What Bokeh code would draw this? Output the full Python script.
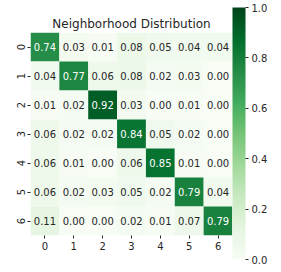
import numpy as np
from bokeh.plotting import figure
from bokeh.models import (ColumnDataSource, LinearColorMapper, ColorBar,
                          FixedTicker, PrintfTickFormatter, Range1d)
from bokeh.embed import file_html
from bokeh.resources import INLINE
from bokeh.core.properties import value

title_text = "Neighborhood Distribution"
row_labels = [0, 1, 2, 3, 4, 5, 6]
col_labels = [0, 1, 2, 3, 4, 5, 6]
values = [
    [0.74, 0.03, 0.01, 0.08, 0.05, 0.04, 0.04],
    [0.04, 0.77, 0.06, 0.08, 0.02, 0.03, 0.00],
    [0.01, 0.02, 0.92, 0.03, 0.00, 0.01, 0.00],
    [0.06, 0.02, 0.02, 0.84, 0.05, 0.02, 0.00],
    [0.06, 0.01, 0.00, 0.06, 0.85, 0.01, 0.00],
    [0.06, 0.02, 0.03, 0.05, 0.02, 0.79, 0.04],
    [0.11, 0.00, 0.00, 0.02, 0.01, 0.07, 0.79],
]
cbar_ticks = [0.0, 0.2, 0.4, 0.6, 0.8, 1.0]

# matplotlib "Greens" colormap anchors
greens_anchors = ["#f7fcf5", "#e5f5e0", "#c7e9c0", "#a1d99b", "#74c476",
                  "#41ab5d", "#238b45", "#006d2c", "#00441b"]


def build_palette(anchors, n=256):
    rgb = np.array([[int(c[i:i + 2], 16) for i in (1, 3, 5)] for c in anchors], float)
    pos = np.linspace(0, 1, len(anchors))
    t = np.linspace(0, 1, n)
    out = []
    for k in range(n):
        r, g, b = (np.interp(t[k], pos, rgb[:, j]) for j in range(3))
        out.append("#%02x%02x%02x" % (int(round(r)), int(round(g)), int(round(b))))
    return out


palette = build_palette(greens_anchors)
mapper = LinearColorMapper(palette=palette, low=0.0, high=1.0)

xs, ys, vs, labels, tcolors = [], [], [], [], []
for i, r in enumerate(row_labels):
    for j, c in enumerate(col_labels):
        v = values[i][j]
        xs.append(c)
        ys.append(r)
        vs.append(v)
        labels.append("%.2f" % v)
        tcolors.append("white" if v > 0.5 else "#262626")

src = ColumnDataSource(dict(x=xs, y=ys, v=vs, label=labels, tc=tcolors))

FONT = "DejaVu Sans"
TXT = "#262626"

p = figure(width=281, height=272, output_backend="svg", toolbar_location=None,
           x_range=Range1d(-0.5, 6.5), y_range=Range1d(6.5, -0.5),
           min_border_left=30, min_border_right=49, min_border_top=32,
           min_border_bottom=37, title=title_text)
p.title.text_font = FONT
p.title.text_font_size = "12px"
p.title.text_font_style = "normal"
p.title.text_color = TXT
p.title.align = "center"
p.title.standoff = 4
p.outline_line_color = None
p.xgrid.visible = False
p.ygrid.visible = False

p.rect(x="x", y="y", width=1, height=1, source=src,
       fill_color={"field": "v", "transform": mapper}, line_color=None)
p.text(x="x", y="y", text="label", source=src, text_color="tc",
       text_align="center", text_baseline="middle",
       text_font=value(FONT), text_font_size="10px")

for ax in (p.xaxis[0], p.yaxis[0]):
    ax.ticker = FixedTicker(ticks=col_labels)
    ax.axis_line_color = None
    ax.major_tick_in = 0
    ax.major_tick_out = 3
    ax.minor_tick_out = 0
    ax.minor_tick_in = 0
    ax.major_tick_line_color = TXT
    ax.major_label_text_font = FONT
    ax.major_label_text_font_size = "10px"
    ax.major_label_text_color = TXT
    ax.major_label_standoff = 3
p.yaxis.major_label_orientation = "vertical"

cb = ColorBar(color_mapper=mapper, width=13, height=252,
              ticker=FixedTicker(ticks=cbar_ticks),
              formatter=PrintfTickFormatter(format="%.1f"),
              major_tick_in=0, major_tick_out=3, major_tick_line_color=TXT,
              major_label_text_font=FONT, major_label_text_font_size="10px",
              major_label_text_color=TXT, label_standoff=3,
              bar_line_color=None, padding=0, margin=13,
              location=(0, -24))
p.add_layout(cb, "right")

open("out.html", "w").write(file_html(p, INLINE))
